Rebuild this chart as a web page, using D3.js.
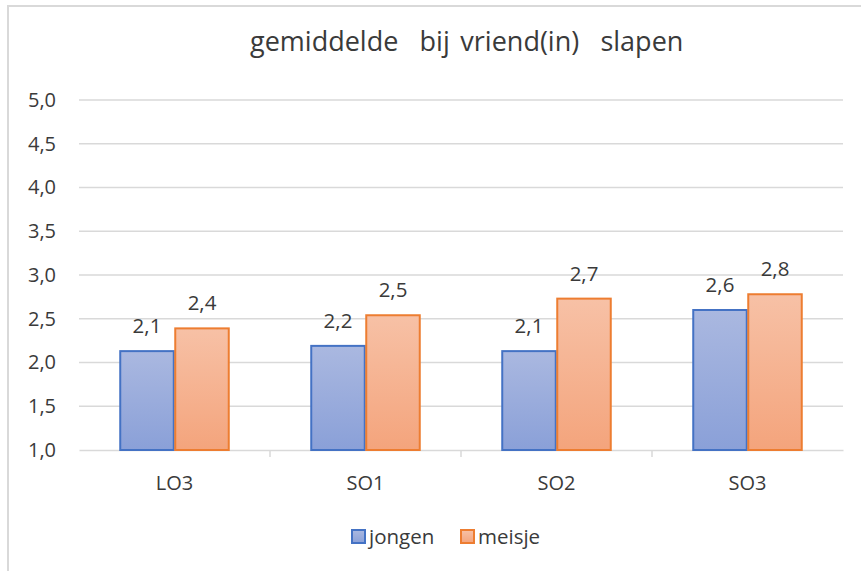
<!DOCTYPE html>
<html>
<head>
<meta charset="utf-8">
<script src="https://cdn.jsdelivr.net/npm/d3@7/dist/d3.min.js"></script>
<style>
  html, body { margin: 0; padding: 0; background: #ffffff; }
  svg { display: block; }
  text { font-family: "Open Sans", sans-serif; fill: #3a3a3a; }
</style>
</head>
<body>
<svg id="chart" width="861" height="571"></svg>
<script>
// Average "sleeping over at a friend's" score per class, split by gender
const categories = ["LO3", "SO1", "SO2", "SO3"];
const seriesNames = ["jongen", "meisje"];
const jongen = [2.13, 2.19, 2.13, 2.6];
const meisje = [2.39, 2.54, 2.73, 2.78];
const yTicks = [1.0, 1.5, 2.0, 2.5, 3.0, 3.5, 4.0, 4.5, 5.0];
const titleText = "gemiddelde  bij vriend(in)  slapen";

const seriesValues = { jongen, meisje };
const colors = {
  jongen: { stroke: "#4472c4", top: "#aab8e0", bottom: "#8aa0d8" },
  meisje: { stroke: "#ed7d31", top: "#f7c1a6", bottom: "#f4a47c" }
};

const svg = d3.select("#chart");
const W = 861, H = 571;
const plot = { left: 79, right: 843, top: 100, bottom: 450 };

// Outer chart frame (light grey)
svg.append("rect")
  .attr("x", 8).attr("y", 6)
  .attr("width", W + 10).attr("height", H + 10)
  .attr("fill", "#ffffff")
  .attr("stroke", "#d9d9d9").attr("stroke-width", 2);

// Gradients
const defs = svg.append("defs");
seriesNames.forEach(s => {
  const g = defs.append("linearGradient")
    .attr("id", "grad-" + s)
    .attr("x1", 0).attr("y1", 0).attr("x2", 0).attr("y2", 1);
  g.append("stop").attr("offset", "0%").attr("stop-color", colors[s].top);
  g.append("stop").attr("offset", "100%").attr("stop-color", colors[s].bottom);
});

const x0 = d3.scaleBand().domain(categories).range([plot.left, plot.right]).padding(0);
const x1 = d3.scaleBand().domain(seriesNames).range([0, x0.bandwidth()])
  .paddingInner(0).paddingOuter(0.736);
const y = d3.scaleLinear().domain([1, 5]).range([plot.bottom, plot.top]);

const fmt = v => d3.format(".1f")(v).replace(".", ",");

// Horizontal gridlines
svg.append("g")
  .selectAll("line")
  .data(yTicks.filter(t => t > 1))
  .join("line")
  .attr("x1", plot.left).attr("x2", plot.right)
  .attr("y1", d => y(d)).attr("y2", d => y(d))
  .attr("stroke", "#d9d9d9").attr("stroke-width", 1.5);

// Y axis labels
const yAxis = d3.axisLeft(y).tickValues(yTicks).tickFormat(fmt).tickSize(0).tickPadding(23);
const yG = svg.append("g").attr("transform", `translate(${plot.left},0)`).call(yAxis);
yG.select(".domain").remove();
yG.selectAll("text").style("font-size", "20px").attr("fill", "#3a3a3a");

// X axis with category separators
const xAxis = d3.axisBottom(x0).tickSize(0).tickPadding(26);
const xG = svg.append("g").attr("transform", `translate(0,${plot.bottom})`).call(xAxis);
xG.select(".domain").attr("stroke", "#d9d9d9").attr("stroke-width", 1.5);
xG.selectAll("text").style("font-size", "20px").attr("fill", "#3a3a3a");
xG.selectAll("line.sep")
  .data(categories.slice(1))
  .join("line").attr("class", "sep")
  .attr("x1", d => x0(d)).attr("x2", d => x0(d))
  .attr("y1", 0).attr("y2", 7)
  .attr("stroke", "#d9d9d9").attr("stroke-width", 1.5);

// Bars
const groups = svg.append("g").selectAll("g")
  .data(categories)
  .join("g")
  .attr("transform", d => `translate(${x0(d)},0)`);

groups.selectAll("rect")
  .data((c, i) => seriesNames.map(s => ({ s, v: seriesValues[s][i] })))
  .join("rect")
  .attr("x", d => x1(d.s) + 0.75)
  .attr("width", x1.bandwidth() - 1.5)
  .attr("y", d => y(d.v))
  .attr("height", d => y(1) - y(d.v))
  .attr("fill", d => `url(#grad-${d.s})`)
  .attr("stroke", d => colors[d.s].stroke)
  .attr("stroke-width", 2);

// Value labels
groups.selectAll("text.val")
  .data((c, i) => seriesNames.map(s => ({ s, v: seriesValues[s][i] })))
  .join("text").attr("class", "val")
  .attr("x", d => x1(d.s) + x1.bandwidth() / 2)
  .attr("y", d => y(d.v) - 18)
  .attr("text-anchor", "middle")
  .style("font-size", "20.5px")
  .text(d => fmt(d.v));

// Title
svg.append("text")
  .attr("x", 250).attr("y", 51)
  .attr("text-anchor", "start")
  .style("font-size", "27px")
  .style("white-space", "pre")
  .style("word-spacing", "3.6px")
  .text(titleText);

// Legend
const legend = svg.append("g").attr("transform", "translate(351,529)");
const legendItems = [
  { s: "jongen", x: 0 },
  { s: "meisje", x: 109 }
];
legendItems.forEach(it => {
  const g = legend.append("g").attr("transform", `translate(${it.x},0)`);
  g.append("rect")
    .attr("x", 1).attr("y", 1).attr("width", 13).attr("height", 13)
    .attr("fill", `url(#grad-${it.s})`)
    .attr("stroke", colors[it.s].stroke).attr("stroke-width", 2);
  g.append("text")
    .attr("x", 18).attr("y", 14.5)
    .style("font-size", "20.5px")
    .text(it.s);
});
</script>
</body>
</html>
